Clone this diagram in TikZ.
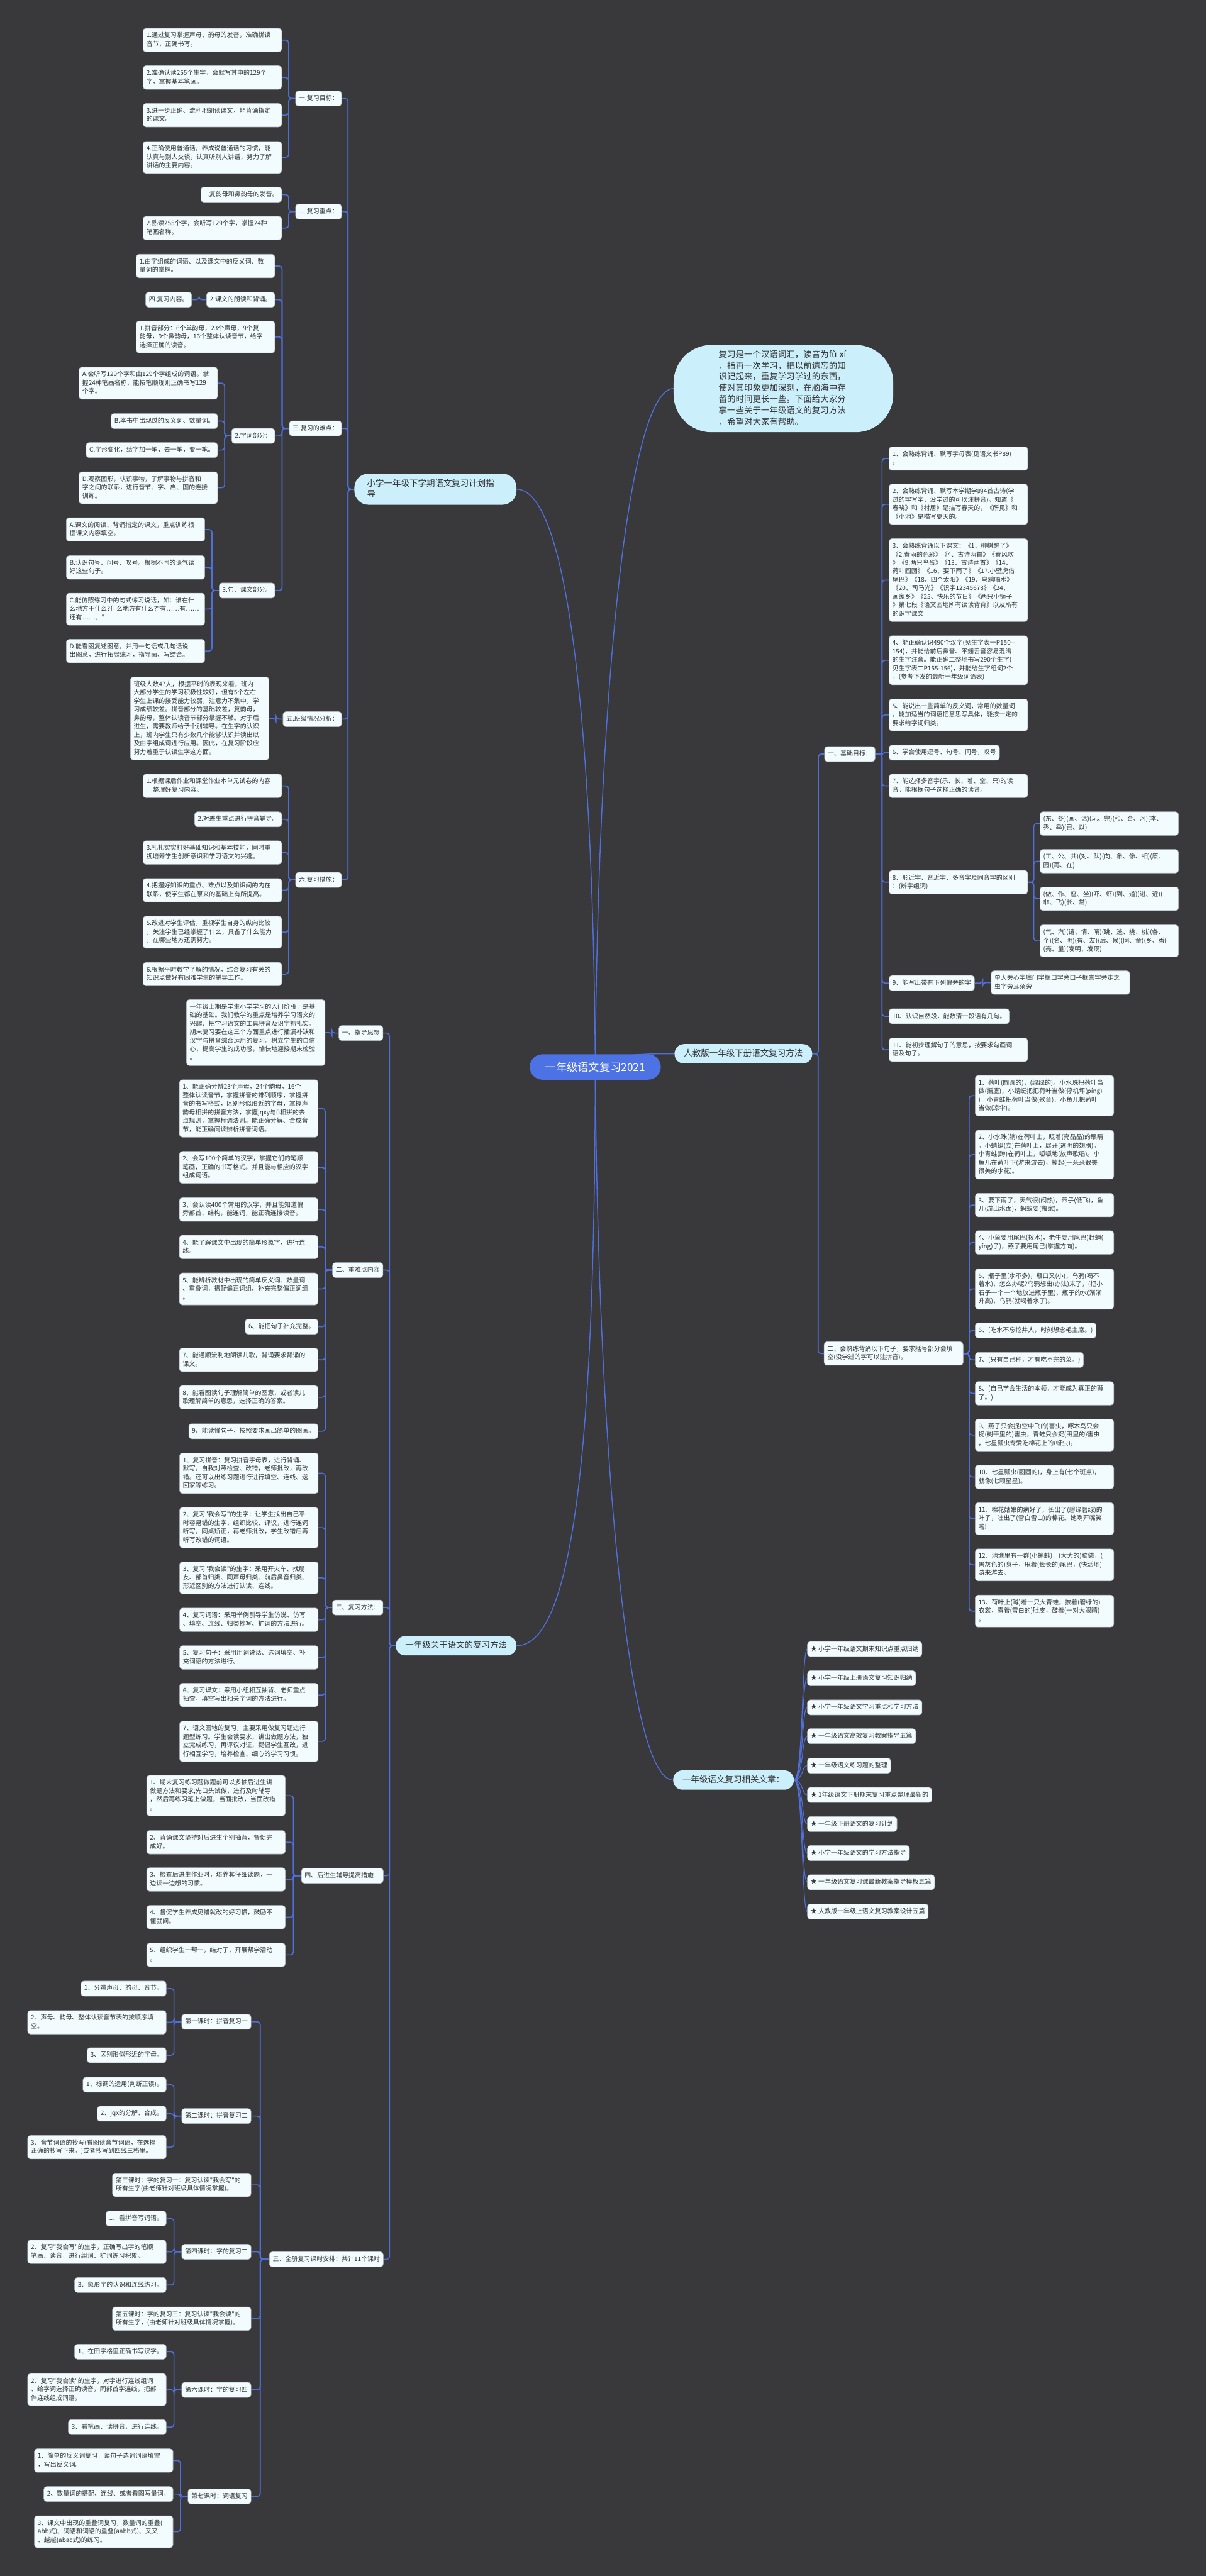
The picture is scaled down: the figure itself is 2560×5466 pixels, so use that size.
\documentclass[tikz,border=0pt]{standalone}
\usepackage{fontspec}
\newfontfamily\zh{Noto Sans CJK SC}
\usetikzlibrary{calc}
\definecolor{bgc}{HTML}{39383A}
\definecolor{lnc}{HTML}{4F6FDB}
\definecolor{boxc}{HTML}{F2FBFE}
\definecolor{boxd}{HTML}{AEB6BE}
\definecolor{pillc}{HTML}{CCEFFC}
\definecolor{rootc}{HTML}{4D72E3}
\definecolor{txt}{HTML}{333333}
\pgfdeclarelayer{back}\pgfdeclarelayer{links}
\pgfsetlayers{back,links,main}
\newcommand\bstA{\rule{0pt}{12pt}}
\newcommand\estA{\rule[-4pt]{0pt}{4pt}}
\newcommand\bstB{\rule{0pt}{16pt}}
\newcommand\estB{\rule[-5pt]{0pt}{5pt}}
\tikzset{
 bx/.style={draw=boxd, line width=0.8pt, fill=boxc, rounded corners=6pt, text=txt,
   font=\zh\fontsize{13.3}{18}\selectfont, align=left, inner xsep=7pt, inner ysep=8pt,
   execute at begin node=\bstA, execute at end node=\estA},
 wide/.style={text width=280pt},
 pill/.style={fill=pillc, rounded corners=20pt, text=txt, font=\zh\fontsize{18}{23}\selectfont,
   align=left, inner xsep=20pt, inner ysep=10pt,
   execute at begin node=\bstB, execute at end node=\estB},
 root/.style={fill=rootc, text=white, rounded corners=27pt, font=\zh\fontsize{23}{28}\selectfont,
   minimum height=54pt, minimum width=278pt, inner sep=0pt},
 lnk/.style={draw=lnc, line width=2.2pt, rounded corners=6pt},
 thinlnk/.style={draw=lnc, line width=1.6pt},
 rlnk/.style={draw=lnc, line width=2pt},
}
\newcommand\lkL[2]{\draw[lnk] let \p1=(#1.west), \p2=(#2.east) in (\p1) -- ({(\x1+\x2)/2},\y1) -- ({(\x1+\x2)/2},\y2) -- (\p2);}
\newcommand\lkR[2]{\draw[lnk] let \p1=(#1.east), \p2=(#2.west) in (\p1) -- ({(\x1+\x2)/2},\y1) -- ({(\x1+\x2)/2},\y2) -- (\p2);}
\newcommand\lkC[2]{\draw[thinlnk] (#1.east) .. controls +(20,0) and +(-12,0) .. (#2.west);}
\begin{document}
\begin{tikzpicture}[x=1pt,y=-1pt]
\useasboundingbox (0,0) rectangle (2560,5466);
\begin{pgfonlayer}{back}
\fill[bgc] (0,0) rectangle (2560,5466);
\end{pgfonlayer}

\node[root] (root) at (1263,2264) {一年级语文复习2021};

% ---------------- Branch A ----------------
\node[pill, text width=290pt, inner xsep=27pt, inner ysep=11pt, rounded corners=30pt, anchor=east] (A) at (1096,1038) {小学一年级下学期语文复习计划指\\导};
\node[bx,anchor=east] (a1) at (725,209) {一.复习目标：};
\node[bx,wide,anchor=east] (a11) at (598,85) {1.通过复习掌握声母、韵母的发音，准确拼读\\音节，正确书写。};
\node[bx,wide,anchor=east] (a12) at (598,164.5) {2.准确认读255个生字，会默写其中的129个\\字，掌握基本笔画。};
\node[bx,wide,anchor=east] (a13) at (598,244.5) {3.进一步正确、流利地朗读课文，能背诵指定\\的课文。};
\node[bx,wide,anchor=east] (a14) at (598,334) {4.正确使用普通话，养成说普通话的习惯，能\\认真与别人交谈，认真听别人讲话，努力了解\\讲话的主要内容。};
\node[bx,anchor=east] (a2) at (725,449) {二.复习重点：};
\node[bx,anchor=east] (a21) at (598,413) {1.复韵母和鼻韵母的发音。};
\node[bx,wide,anchor=east] (a22) at (598,484) {2.熟读255个字，会听写129个字，掌握24种\\笔画名称。};
\node[bx,anchor=east] (a3) at (725,909) {三.复习的难点：};
\node[bx,wide,anchor=east] (a31) at (583.5,564.5) {1.由字组成的词语、以及课文中的反义词、数\\量词的掌握。};
\node[bx,anchor=east] (a32) at (583.5,636) {2.课文的朗读和背诵。};
\node[bx,anchor=east] (a321) at (407,636) {四.复习内容。};
\node[bx,wide,anchor=east] (a33) at (583.5,715) {1.拼音部分：6个单韵母，23个声母，9个复\\韵母，9个鼻韵母，16个整体认读音节，给字\\选择正确的读音。};
\node[bx,anchor=east] (a34) at (583.5,925) {2.字词部分：};
\node[bx,wide,anchor=east] (a341) at (462,813) {A.会听写129个字和由129个字组成的词语。掌\\握24种笔画名称，能按笔顺规则正确书写129\\个字。};
\node[bx,anchor=east] (a342) at (462,893.5) {B.本书中出现过的反义词、数量词。};
\node[bx,anchor=east] (a343) at (462,955) {C.字形变化，给字加一笔，去一笔，变一笔。};
\node[bx,wide,anchor=east] (a344) at (462,1035) {D.观察图形，认识事物，了解事物与拼音和\\字之间的联系，进行音节、字、启、图的连接\\训练。};
\node[bx,anchor=east] (a35) at (583.5,1253) {3.句、课文部分。};
\node[bx,wide,anchor=east] (a351) at (435,1123.5) {A.课文的阅读、背诵指定的课文，重点训练根\\据课文内容填空。};
\node[bx,wide,anchor=east] (a352) at (435,1204) {B.认识句号、问号、叹号。根据不同的语气读\\好这些句子。};
\node[bx,wide,anchor=east] (a353) at (435,1292.5) {C.能仿照练习中的句式练习说话，如：谁在什\\么地方干什么?什么地方有什么?"有……有……\\还有……。"};
\node[bx,wide,anchor=east] (a354) at (435,1381.5) {D.能看图复述图意，并用一句话或几句话说\\出图意，进行拓展练习，指导画、写结合。};
\node[bx,anchor=east] (a4) at (725,1526) {五.班级情况分析：};
\node[bx,wide,anchor=east] (a41) at (571,1524.5) {班级人数47人，根据平时的表现来看，班内\\大部分学生的学习积极性较好，但有5个左右\\学生上课的接受能力较弱，注意力不集中，学\\习成绩较差。拼音部分的基础较差，复韵母，\\鼻韵母，整体认读音节部分掌握不够。对于后\\进生，需要教师给予个别辅导。在生字的认识\\上，班内学生只有少数几个能够认识并读出以\\及由字组成词进行应用。因此，在复习阶段应\\努力着重于认读生字这方面。};
\node[bx,anchor=east] (a5) at (725,1867) {六.复习措施：};
\node[bx,wide,anchor=east] (a51) at (598,1667.5) {1.根据课后作业和课堂作业本单元试卷的内容\\，整理好复习内容。};
\node[bx,anchor=east] (a52) at (598,1738.5) {2.对差生重点进行拼音辅导。};
\node[bx,wide,anchor=east] (a53) at (598,1809) {3.扎扎实实打好基础知识和基本技能，同时重\\视培养学生创新意识和学习语文的兴趣。};
\node[bx,wide,anchor=east] (a54) at (598,1889) {4.把握好知识的重点、难点以及知识间的内在\\联系，使学生都在原来的基础上有所提高。};
\node[bx,wide,anchor=east] (a55) at (598,1978) {5.改进对学生评估，重视学生自身的纵向比较\\，关注学生已经掌握了什么，具备了什么能力\\，在哪些地方还需努力。};
\node[bx,wide,anchor=east] (a56) at (598,2067) {6.根据平时教学了解的情况，结合复习有关的\\知识点做好有困难学生的辅导工作。};

% ---------------- Bubble ----------------
\node[pill, text width=275pt, inner xsep=95.5pt, inner ysep=10pt, rounded corners=80pt,
  font=\zh\fontsize{18}{24}\selectfont, anchor=west] (bub) at (1429,824.5) {复习是一个汉语词汇，读音为fù xí\\，指再一次学习，把以前遗忘的知\\识记起来，重复学习学过的东西，\\使对其印象更加深刻，在脑海中存\\留的时间更长一些。下面给大家分\\享一些关于一年级语文的复习方法\\，希望对大家有帮助。};

% ---------------- Branch B ----------------
\node[pill, anchor=west] (B) at (1431,2236) {人教版一年级下册语文复习方法};
\node[bx,anchor=west] (b1) at (1749,1600) {一、基础目标：};
\node[bx,wide,anchor=west] (b11) at (1886,973) {1、会熟练背诵、默写字母表(见语文书P89)\\。};
\node[bx,wide,anchor=west] (b12) at (1886,1070) {2、会熟练背诵、默写本学期学的4首古诗(学\\过的字写字，没学过的可以注拼音)。知道《\\春晓》和《村居》是描写春天的，《所见》和\\《小池》是描写夏天的。};
\node[bx,wide,anchor=west] (b13) at (1886,1231) {3、会熟练背诵以下课文：《1、柳树醒了》\\《2.春雨的色彩》《4、古诗两首》《春风吹\\》《9.两只鸟蛋》《13、古诗两首》《14、\\荷叶圆圆》《16、要下雨了》《17.小壁虎借\\尾巴》《18、四个太阳》《19、乌鸦喝水》\\《20、司马光》《识字12345678》《24、\\画家乡》《25、快乐的节日》《两只小狮子\\》第七段《语文园地所有读读背背》以及所有\\的识字课文};
\node[bx,wide,anchor=west] (b14) at (1886,1401) {4、能正确认识490个汉字(见生字表一P150--\\154)，并能给前后鼻音、平翘舌音容易混淆\\的生字注音。能正确工整地书写290个生字(\\见生字表二P155-156)，并能给生字组词2个\\。(参考下发的最新一年级词语表)};
\node[bx,wide,anchor=west] (b15) at (1886,1517) {5、能说出一些简单的反义词，常用的数量词\\，能加适当的词语把意思写具体，能按一定的\\要求给字词归类。};
\node[bx,anchor=west] (b16) at (1886,1597) {6、学会使用逗号、句号、问号，叹号};
\node[bx,wide,anchor=west] (b17) at (1886,1667.5) {7、能选择多音字(乐、长、着、空、只)的读\\音，能根据句子选择正确的读音。};
\node[bx,wide,anchor=west] (b18) at (1886,1872) {8、形近字、音近字、多音字及同音字的区别\\：(辨字组词)};
\node[bx,wide,anchor=west] (b181) at (2206,1747.5) {(东、冬)(画、话)(玩、完)(和、合、河)(李、\\秀、季)(已、以)};
\node[bx,wide,anchor=west] (b182) at (2206,1827.5) {(工、公、共)(对、队)(向、象、像、相)(原、\\园)(再、在)};
\node[bx,wide,anchor=west] (b183) at (2206,1907) {(做、作、座、坐)(吓、虾)(到、道)(进、近)(\\非、飞)(长、常)};
\node[bx,wide,anchor=west] (b184) at (2206,1996.5) {(气、汽)(请、情、晴)(跳、逃、挑、桃)(各、\\个)(名、明)(有、友)(后、候)(同、童)(乡、香)\\(亮、量)(发明、发现)};
\node[bx,anchor=west] (b19) at (1886,2086) {9、能写出带有下列偏旁的字};
\node[bx,wide,anchor=west] (b191) at (2102.5,2085) {单人旁心字底门字框口字旁口子框言字旁走之\\虫字旁耳朵旁};
\node[bx,anchor=west] (b110) at (1886,2156.5) {10、认识自然段，能数清一段话有几句。};
\node[bx,wide,anchor=west] (b111) at (1886,2227.5) {11、能初步理解句子的意思，按要求勾画词\\语及句子。};
\node[bx,wide,text width=281pt,anchor=west] (b2) at (1748,2872) {二、会熟练背诵以下句子，要求括号部分会填\\空(没学过的字可以注拼音)。};
\node[bx,wide,anchor=west] (b21) at (2068.6,2325) {1、荷叶(圆圆的)，(绿绿的)。小水珠把荷叶当\\做(摇篮)，小蜻蜓把把荷叶当做(停机坪(píng)\\)，小青蛙把荷叶当做(歌台)，小鱼儿把荷叶\\当做(凉伞)。};
\node[bx,wide,anchor=west] (b22) at (2068.6,2450) {2、小水珠(躺)在荷叶上，眨着(亮晶晶)的眼睛\\。小蜻蜓(立)在荷叶上，展开(透明的翅膀)。\\小青蛙(蹲)在荷叶上，呱呱地(放声歌唱)。小\\鱼儿在荷叶下(游来游去)，捧起(一朵朵很美\\很美的水花)。};
\node[bx,wide,anchor=west] (b23) at (2068.6,2557) {3、要下雨了，天气很(闷热)，燕子(低飞)，鱼\\儿(游出水面)，蚂蚁要(搬家)。};
\node[bx,wide,anchor=west] (b24) at (2068.6,2636.5) {4、小鱼要用尾巴(拨水)，老牛要用尾巴(赶蝇(\\yíng)子)，燕子要用尾巴(掌握方向)。};
\node[bx,wide,anchor=west] (b25) at (2068.6,2735) {5、瓶子里(水不多)，瓶口又(小)，乌鸦(喝不\\着水)，怎么办呢?乌鸦想出(办法)来了，(把小\\石子一个一个地放进瓶子里)，瓶子的水(渐渐\\升高)，乌鸦(就喝着水了)。};
\node[bx,anchor=west] (b26) at (2068.6,2823) {6、(吃水不忘挖井人，时刻想念毛主席。)};
\node[bx,anchor=west] (b27) at (2068.6,2885.5) {7、(只有自己种，才有吃不完的菜。)};
\node[bx,wide,anchor=west] (b28) at (2068.6,2956.5) {8、(自己学会生活的本领，才能成为真正的狮\\子。)};
\node[bx,wide,anchor=west] (b29) at (2068.6,3045) {9、燕子只会捉(空中飞的)害虫，啄木鸟只会\\捉(树干里的)害虫，青蛙只会捉(田里的)害虫\\，七星瓢虫专爱吃棉花上的(蚜虫)。};
\node[bx,wide,anchor=west] (b210) at (2068.6,3134) {10、七星瓢虫(圆圆的)，身上有(七个斑点)，\\就像(七颗星星)。};
\node[bx,wide,anchor=west] (b211) at (2068.6,3222.5) {11、棉花姑娘的病好了，长出了(碧绿碧绿)的\\叶子，吐出了(雪白雪白)的棉花。她咧开嘴笑\\啦!};
\node[bx,wide,anchor=west] (b212) at (2068.6,3320.5) {12、池塘里有一群(小蝌蚪)，(大大的)脑袋，(\\黑灰色的)身子，甩着(长长的)尾巴，(快活地)\\游来游去。};
\node[bx,wide,anchor=west] (b213) at (2068.6,3418.5) {13、荷叶上(蹲)着一只大青蛙，披着(碧绿的)\\衣裳，露着(雪白的)肚皮，鼓着(一对大眼睛)\\。};

% ---------------- Branch D ----------------
\node[pill, anchor=east] (D) at (1096,3492) {一年级关于语文的复习方法};
\node[bx,anchor=east] (d1) at (813,2192) {一、指导思想};
\node[bx,wide,anchor=east] (d11) at (690,2191) {一年级上期是学生小学学习的入门阶段，是基\\础的基础。我们教学的重点是培养学习语文的\\兴趣、把学习语文的工具拼音及识字抓扎实。\\期末复习要在这三个方面重点进行插漏补缺和\\汉字与拼音综合运用的复习。树立学生的自信\\心，提高学生的成功感，愉快地迎接期末检验\\。};
\node[bx,anchor=east] (d2) at (813,2695) {二、重难点内容};
\node[bx,wide,anchor=east] (d21) at (675,2352) {1、能正确分辨23个声母，24个韵母，16个\\整体认读音节，掌握拼音的排列顺序，掌握拼\\音的书写格式，区别形似形近的字母，掌握声\\韵母相拼的拼音方法，掌握jqxy与ü相拼的去\\点规则，掌握标调法则。能正确分解、合成音\\节，能正确阅读辨析拼音词语。};
\node[bx,wide,anchor=east] (d22) at (675,2477) {2、会写100个简单的汉字，掌握它们的笔顺\\笔画，正确的书写格式。并且能与相应的汉字\\组成词语。};
\node[bx,wide,anchor=east] (d23) at (675,2566.5) {3、会认读400个常用的汉字，并且能知道偏\\旁部首、结构，能连词，能正确连接读音。};
\node[bx,wide,anchor=east] (d24) at (675,2646) {4、能了解课文中出现的简单形象字，进行连\\线。};
\node[bx,wide,anchor=east] (d25) at (675,2735) {5、能辨析教材中出现的简单反义词、数量词\\、重叠词，搭配偏正词组、补充完整偏正词组\\。};
\node[bx,anchor=east] (d26) at (675,2815) {6、能把句子补充完整。};
\node[bx,wide,anchor=east] (d27) at (675,2885.5) {7、能通顺流利地朗读儿歌，背诵要求背诵的\\课文。};
\node[bx,wide,anchor=east] (d28) at (675,2965) {8、能看图读句子理解简单的图意，或者读儿\\歌理解简单的意思，选择正确的答案。};
\node[bx,anchor=east] (d29) at (675,3037) {9、能读懂句子，按照要求画出简单的图画。};
\node[bx,anchor=east] (d3) at (813,3411) {三、复习方法：};
\node[bx,wide,anchor=east] (d31) at (675.5,3126) {1、复习拼音：复习拼音字母表，进行背诵、\\默写，自我对照检查、改错，老师批改，再改\\错。还可以出练习题进行进行填空、连线、送\\回家等练习。};
\node[bx,wide,anchor=east] (d32) at (675.5,3241.5) {2、复习"我会写"的生字：让学生找出自己平\\时容易错的生字，组织比较、评议，进行连词\\听写，同桌矫正，再老师批改，学生改错后再\\听写改错的词语。};
\node[bx,wide,anchor=east] (d33) at (675.5,3348) {3、复习"我会读"的生字：采用开火车、找朋\\友、部首归类、同声母归类、前后鼻音归类、\\形近区别的方法进行认读、连线。};
\node[bx,wide,anchor=east] (d34) at (675.5,3437) {4、复习词语：采用举例引导学生仿说、仿写\\、填空、连线、归类抄写、扩词的方法进行。};
\node[bx,wide,anchor=east] (d35) at (675.5,3517) {5、复习句子：采用用词说话、选词填空、补\\充词语的方法进行。};
\node[bx,wide,anchor=east] (d36) at (675.5,3596.5) {6、复习课文：采用小组相互抽背、老师重点\\抽查，填空写出相关字词的方法进行。};
\node[bx,wide,anchor=east] (d37) at (675.5,3695) {7、语文园地的复习，主要采用做复习题进行\\题型练习。学生会读要求，讲出做题方法，独\\立完成练习，再评议对证，提倡学生互改，进\\行相互学习，培养检查、细心的学习习惯。};
\node[bx,anchor=east] (d4) at (813.5,3980) {四、后进生辅导提高措施：};
\node[bx,wide,anchor=east] (d41) at (605.6,3810) {1、期末复习练习题做题前可以多抽后进生讲\\做题方法和要求;先口头试做，进行及时辅导\\，然后再练习笔上做题，当面批改，当面改错\\。};
\node[bx,wide,anchor=east] (d42) at (605.6,3909) {2、背诵课文坚持对后进生个别抽背，督促完\\成好。};
\node[bx,wide,anchor=east] (d43) at (605.6,3988) {3、检查后进生作业时，培养其仔细读题，一\\边读一边想的习惯。};
\node[bx,wide,anchor=east] (d44) at (605.6,4068) {4、督促学生养成见错就改的好习惯，鼓励不\\懂就问。};
\node[bx,wide,anchor=east] (d45) at (605.6,4148) {5、组织学生一帮一，结对子，开展帮学活动\\。};
\node[bx,anchor=east] (d5) at (813.5,4794) {五、全册复习课时安排：共计11个课时};
\node[bx,anchor=east] (d51) at (533,4290) {第一课时：拼音复习一};
\node[bx,anchor=east] (d511) at (353,4219.5) {1、分辨声母、韵母、音节。};
\node[bx,wide,anchor=east] (d512) at (353,4291) {2、声母、韵母、整体认读音节表的按顺序填\\空。};
\node[bx,anchor=east] (d513) at (353,4361) {3、区别形似形近的字母。};
\node[bx,anchor=east] (d52) at (533,4490) {第二课时：拼音复习二};
\node[bx,anchor=east] (d521) at (353,4423.5) {1、标调的运用(判断正误)。};
\node[bx,anchor=east] (d522) at (353,4485) {2、jqx的分解、合成。};
\node[bx,wide,anchor=east] (d523) at (353,4556) {3、音节词语的抄写(看图读音节词语，在选择\\正确的抄写下来。)或者抄写到四线三格里。};
\node[bx,wide,anchor=east] (d53) at (533,4636) {第三课时：字的复习一：复习认读"我会写"的\\所有生字(由老师针对班级具体情况掌握)。};
\node[bx,anchor=east] (d54) at (533,4778) {第四课时：字的复习二};
\node[bx,anchor=east] (d541) at (353,4707.5) {1、看拼音写词语。};
\node[bx,wide,anchor=east] (d542) at (353,4778) {2、复习"我会写"的生字，正确写出字的笔顺\\笔画、读音，进行组词、扩词练习积累。};
\node[bx,anchor=east] (d543) at (353,4848.5) {3、象形字的认识和连线练习。};
\node[bx,wide,anchor=east] (d55) at (533,4920) {第五课时：字的复习三：复习认读"我会读"的\\所有生字，(由老师针对班级具体情况掌握)。};
\node[bx,anchor=east] (d56) at (533,5071) {第六课时：字的复习四};
\node[bx,anchor=east] (d561) at (353,4990) {1、在田字格里正确书写汉字。};
\node[bx,wide,anchor=east] (d562) at (353,5070.5) {2、复习"我会读"的生字，对字进行连线组词\\、给字词选择正确读音，同部首字连线，把部\\件连线组成词语。};
\node[bx,anchor=east] (d563) at (353,5150) {3、看笔画、读拼音，进行连线。};
\node[bx,anchor=east] (d57) at (533,5297) {第七课时：词语复习};
\node[bx,wide,anchor=east] (d571) at (367.4,5221) {1、简单的反义词复习，读句子选词词语填空\\，写出反义词。};
\node[bx,anchor=east] (d572) at (367.4,5292) {2、数量词的搭配、连线、或者看图写量词。};
\node[bx,wide,anchor=east] (d573) at (367.4,5372) {3、课文中出现的重叠词复习，数量词的重叠(\\abb式)、词语和词语的重叠(aabb式)、又又\\、越越(abac式)的练习。};

% ---------------- Branch E ----------------
\node[pill, anchor=west] (E) at (1428,3777) {一年级语文复习相关文章：};
\node[bx,anchor=west] (e1) at (1712.7,3499) {★ 小学一年级语文期末知识点重点归纳};
\node[bx,anchor=west] (e2) at (1712.7,3561) {★ 小学一年级上册语文复习知识归纳};
\node[bx,anchor=west] (e3) at (1712.7,3623) {★ 小学一年级语文学习重点和学习方法};
\node[bx,anchor=west] (e4) at (1712.7,3684) {★ 一年级语文高效复习教案指导五篇};
\node[bx,anchor=west] (e5) at (1712.7,3746.5) {★ 一年级语文练习题的整理};
\node[bx,anchor=west] (e6) at (1712.7,3808.6) {★ 1年级语文下册期末复习重点整理最新的};
\node[bx,anchor=west] (e7) at (1712.7,3870.5) {★ 一年级下册语文的复习计划};
\node[bx,anchor=west] (e8) at (1712.7,3932) {★ 小学一年级语文的学习方法指导};
\node[bx,anchor=west] (e9) at (1712.7,3994) {★ 一年级语文复习课最新教案指导模板五篇};
\node[bx,anchor=west] (e10) at (1712.7,4056) {★ 人教版一年级上语文复习教案设计五篇};

% ---------------- Links ----------------
\begin{pgfonlayer}{links}
\draw[rlnk] (root.center) .. controls (1258,1500) and (1200,1038) .. (A.east);
\draw[rlnk] (root.center) .. controls (1268,1500) and (1330,825) .. (bub.west);
\draw[rlnk] (root.center) .. controls (1300,2236) and (1360,2236) .. (B.west);
\draw[rlnk] (root.center) .. controls (1262,3000) and (1225,3492) .. (D.east);
\draw[rlnk] (root.center) .. controls (1268,3050) and (1330,3777) .. (E.west);
\foreach \c in {a1,a2,a3,a4,a5} {\lkL{A}{\c}}
\foreach \c in {a11,a12,a13,a14} {\lkL{a1}{\c}}
\foreach \c in {a21,a22} {\lkL{a2}{\c}}
\foreach \c in {a31,a32,a33,a34,a35} {\lkL{a3}{\c}}
\lkL{a32}{a321}
\foreach \c in {a341,a342,a343,a344} {\lkL{a34}{\c}}
\foreach \c in {a351,a352,a353,a354} {\lkL{a35}{\c}}
\lkL{a4}{a41}
\foreach \c in {a51,a52,a53,a54,a55,a56} {\lkL{a5}{\c}}
\foreach \c in {b1,b2} {\lkR{B}{\c}}
\foreach \c in {b11,b12,b13,b14,b15,b16,b17,b18,b19,b110,b111} {\lkR{b1}{\c}}
\foreach \c in {b181,b182,b183,b184} {\lkR{b18}{\c}}
\lkR{b19}{b191}
\foreach \c in {b21,b22,b23,b24,b25,b26,b27,b28,b29,b210,b211,b212,b213} {\lkR{b2}{\c}}
\foreach \c in {d1,d2,d3,d4,d5} {\lkL{D}{\c}}
\lkL{d1}{d11}
\foreach \c in {d21,d22,d23,d24,d25,d26,d27,d28,d29} {\lkL{d2}{\c}}
\foreach \c in {d31,d32,d33,d34,d35,d36,d37} {\lkL{d3}{\c}}
\foreach \c in {d41,d42,d43,d44,d45} {\lkL{d4}{\c}}
\foreach \c in {d51,d52,d53,d54,d55,d56,d57} {\lkL{d5}{\c}}
\foreach \c in {d511,d512,d513} {\lkL{d51}{\c}}
\foreach \c in {d521,d522,d523} {\lkL{d52}{\c}}
\foreach \c in {d541,d542,d543} {\lkL{d54}{\c}}
\foreach \c in {d561,d562,d563} {\lkL{d56}{\c}}
\foreach \c in {d571,d572,d573} {\lkL{d57}{\c}}
\foreach \c in {e1,e2,e3,e4,e5,e6,e7,e8,e9,e10} {\lkC{E}{\c}}
\end{pgfonlayer}
\end{tikzpicture}
\end{document}
